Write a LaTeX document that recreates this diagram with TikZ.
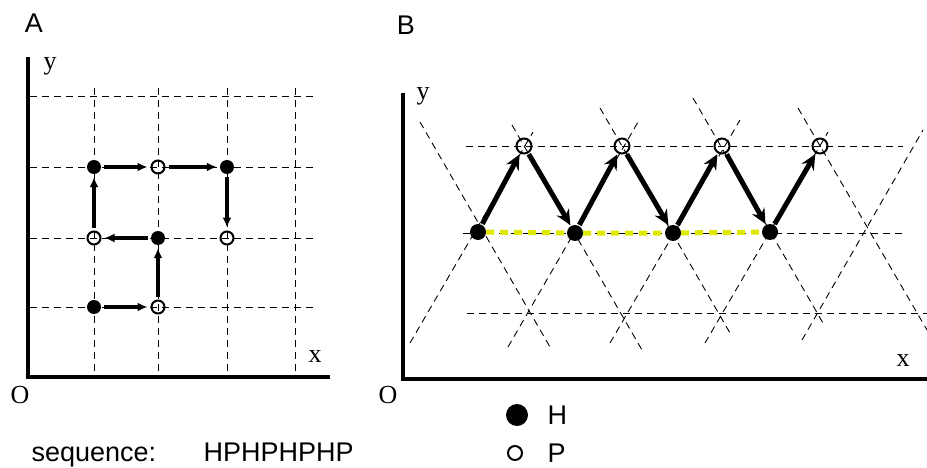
\documentclass[tikz,border=0pt]{standalone}
\usepackage{fontspec}
\setmainfont{Liberation Serif}
\setsansfont{Liberation Sans}
\usetikzlibrary{positioning, arrows.meta}
\definecolor{hhyellow}{RGB}{222,232,0}

\begin{document}
\begin{tikzpicture}[
    x=1pt, y=-1pt,
    axis/.style={line width=4pt},
    gridline/.style={line width=0.9pt, dash pattern=on 7pt off 5pt},
    hres/.style={circle, fill=black, inner sep=0pt, minimum size=14pt},
    pres/.style={circle, draw, line width=2pt, inner sep=0pt, minimum size=13pt},
    hresB/.style={hres, minimum size=16pt},
    presB/.style={pres, minimum size=15pt},
    moveA/.style={line width=3.5pt, -{Latex[length=10pt,width=9pt]}, shorten <=3pt, shorten >=3pt},
    moveB/.style={line width=5pt, -{Stealth[length=15pt,width=14pt,inset=5pt]}, shorten <=1pt, shorten >=1pt},
    hhcontact/.style={hhyellow, line width=5pt, dash pattern=on 8pt off 6pt},
    axlabel/.style={font=\fontsize{26}{28}\selectfont},
    sflabel/.style={font=\sffamily\fontsize{27}{30}\selectfont}
]
    \useasboundingbox (0,0) rectangle (927,468);

    % Panel labels
    \node[sflabel] (labA) at (34,23) {A};
    \node[sflabel] (labB) at (406,25) {B};

    % A: square lattice
    \draw[gridline] (30,96) -- (315,96) (30,167) -- (315,167)
                    (30,238) -- (315,238) (30,307) -- (315,307);
    \draw[gridline] (94,88) -- (94,372) (158,88) -- (158,372)
                    (227,88) -- (227,372) (295,88) -- (295,372);
    \draw[axis] (28,57) -- (28,377) -- (330,377);
    \node[axlabel] (yA) at (50,66) {y};
    \node[axlabel] (xA) at (315,357) {x};
    \node[axlabel] (oA) at (20,395) {O};

    % A: residues
    \node[hres] (a1) at (94,307) {};
    \node[pres] (a2) at (158,307) {};
    \node[hres] (a3) at (158,238) {};
    \node[pres] (a4) at (94,238) {};
    \node[hres] (a5) at (94,167) {};
    \node[pres] (a6) at (158,167) {};
    \node[hres] (a7) at (227,167) {};
    \node[pres] (a8) at (227,238) {};

    % A: chain
    \draw[moveA] (a1) -- (a2);
    \draw[moveA] (a2) -- (a3);
    \draw[moveA] (a3) -- (a4);
    \draw[moveA] (a4) -- (a5);
    \draw[moveA] (a5) -- (a6);
    \draw[moveA] (a6) -- (a7);
    \draw[moveA] (a7) -- (a8);

    % B: triangular lattice
    \draw[gridline] (466,146) -- (903,146) (463,233) -- (902,233) (467,313) -- (927,313);
    \draw[gridline] (420,122) -- (550,347) (410,343) -- (533,132)
                    (512,125) -- (642,350) (508,347) -- (638,122)
                    (600,108) -- (730,333) (610,343) -- (740,120)
                    (693,98) -- (823,323) (705,343) -- (828,132)
                    (798,108) -- (927,330) (802,340) -- (923,130);
    \draw[axis] (403,93) -- (403,379) -- (927,379);
    \node[axlabel] (yB) at (423,96) {y};
    \node[axlabel] (xB) at (903,361) {x};
    \node[axlabel] (oB) at (388,395) {O};

    % B: residues
    \node[hresB] (b1) at (478,232) {};
    \node[presB] (b2) at (524,146) {};
    \node[hresB] (b3) at (575,233) {};
    \node[presB] (b4) at (622,146) {};
    \node[hresB] (b5) at (673,233) {};
    \node[presB] (b6) at (722,146) {};
    \node[hresB] (b7) at (770,232) {};
    \node[presB] (b8) at (820,146) {};

    % B: H-H contacts
    \draw[hhcontact] (b1) -- (b3) (b3) -- (b5) (b5) -- (b7);

    % B: chain
    \draw[moveB] (b1) -- (b2);
    \draw[moveB] (b2) -- (b3);
    \draw[moveB] (b3) -- (b4);
    \draw[moveB] (b4) -- (b5);
    \draw[moveB] (b5) -- (b6);
    \draw[moveB] (b6) -- (b7);
    \draw[moveB] (b7) -- (b8);

    % Sequence and legend
    \node[sflabel, anchor=base west] (seq) at (28,461) {sequence:};
    \node[sflabel, anchor=base west] (hp) at (200,461) {HPHPHPHP};
    \node[hres, minimum size=22pt] (legH) at (517,415) {};
    \node[pres, minimum size=14pt] (legP) at (515,453) {};
    \node[sflabel, right=16pt of legH] (txtH) {H};
    \node[sflabel, right=21pt of legP] (txtP) {P};
\end{tikzpicture}
\end{document}
